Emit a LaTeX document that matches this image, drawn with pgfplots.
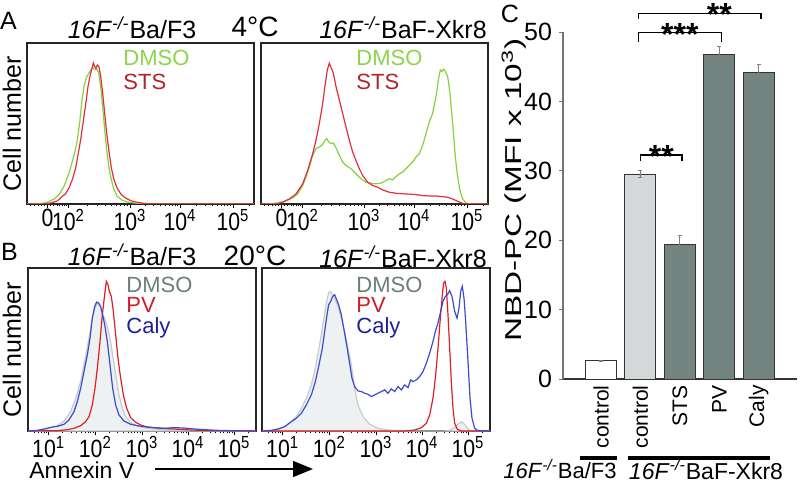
\documentclass[border=0pt]{standalone}
\usepackage{fontspec}
\setmainfont{Liberation Sans}
\newfontfamily\condfont[FakeStretch=0.85]{Liberation Sans}
\newfontfamily\tallfont[FakeStretch=1.45]{Liberation Sans}
\usepackage{pgfplots}
\pgfplotsset{compat=1.18}
\usetikzlibrary{arrows.meta}
\definecolor{dmsoG}{HTML}{86D13E}
\definecolor{dmsoGT}{HTML}{8CD449}
\definecolor{stsR}{HTML}{E0303A}
\definecolor{stsRT}{HTML}{B3232B}
\definecolor{dmsoLine}{HTML}{C8CBCB}
\definecolor{dmsoFill}{HTML}{EEF1F1}
\definecolor{dmsoT}{HTML}{6F7C7C}
\definecolor{pvR}{HTML}{E01E26}
\definecolor{pvT}{HTML}{CC1F2A}
\definecolor{calyB}{HTML}{3A4CCB}
\definecolor{calyT}{HTML}{1F1F9E}
\definecolor{barLight}{HTML}{D4D8D8}
\definecolor{barDark}{HTML}{738481}
\pgfplotsset{
  hist/.style={
    scale only axis, anchor=south west,
    axis line style={line width=0.6pt, black!85},
    ytick=\empty, xtick pos=bottom, tick align=outside,
    major tick length=2pt, minor tick length=1.2pt,
    every tick/.style={black, line width=0.4pt},
    xticklabel style={font=\condfont\fontsize{12.5}{12.5}\selectfont, inner sep=0.5pt},
    ymin=0,
  },
  histA/.style={hist, width=113.5pt, height=80.5pt, xmin=0, xmax=681,
    xtick={61.5,124.5,309,459,618},
    xticklabels={0,10\textsuperscript{2},10\textsuperscript{3},10\textsuperscript{4},10\textsuperscript{5}},
    minor xtick={10,22,33,43,52,70,80,90,98,106,113,119,180,212.5,235.5,253.5,268,280.5,291,300.5,354,380.5,399,414,425.7,435.7,444.5,452,507,535,554.7,570,582.7,593.4,602.6,610.7,666}},
  histB/.style={hist, width=114pt, height=81.5pt, xmin=0, xmax=684, ymax=488,
    xtick={62,202,342,480,618},
    xticklabels={10\textsuperscript{1},10\textsuperscript{2},10\textsuperscript{3},10\textsuperscript{4},10\textsuperscript{5}},
    minor xtick={20,31,40,48,56,104,129,146,160,171,180,188,196,244,269,286,300,311,320,328,336,384,408,425,438,449,459,467,474,522,546,563,577,587,597,605,612,660}},
}
\begin{document}
\begin{tikzpicture}
\useasboundingbox (0,0) rectangle (400pt,-241pt);

% ---------- Panel A left ----------
\begin{axis}[histA, at={(13.5pt,-102pt)}, ymax=483]
\addplot[dmsoG, line width=0.6pt] table[x expr=\thisrow{x}-9, y expr=493-\thisrow{y}] {
x y
9 493
50 492
70 488
90 478
105 465
120 440
135 400
145 365
152 340
160 300
167 250
173 190
180 140
188 112
195 100
202 88
207 84
212 90
218 88
224 98
230 140
236 200
242 270
248 330
255 385
262 420
270 450
280 470
295 482
315 488
340 491
380 493
690 493
};
\addplot[stsR, line width=0.6pt] table[x expr=\thisrow{x}-9, y expr=493-\thisrow{y}] {
x y
9 493
60 493
80 490
100 484
115 470
125 462
135 445
145 420
155 385
163 340
170 300
177 250
185 195
192 140
198 110
204 85
208 70
212 80
216 86
220 76
225 82
230 110
236 160
242 220
248 280
255 335
262 385
270 420
280 447
292 465
305 475
320 483
340 488
360 491
380 493
690 493
};
\end{axis}

% ---------- Panel A right ----------
\begin{axis}[histA, at={(130.5pt,-102pt)}, ymax=480]
\addplot[dmsoG, line width=0.6pt] table[x expr=\thisrow{x}-15, y expr=490-\thisrow{y}] {
x y
15 490
50 489
70 486
90 480
110 472
125 460
140 435
150 410
160 380
170 345
180 325
190 320
200 312
207 300
212 295
218 305
225 310
232 308
240 322
250 345
260 365
270 375
285 385
300 400
315 415
330 425
345 428
360 430
375 428
390 420
400 415
410 418
420 408
430 400
440 395
450 385
460 375
470 365
480 350
490 340
500 315
510 280
520 245
530 220
540 170
547 120
553 90
558 95
563 88
568 95
575 110
582 160
590 250
598 350
605 410
612 450
620 475
630 487
645 490
696 490
};
\addplot[stsR, line width=0.6pt] table[x expr=\thisrow{x}-15, y expr=490-\thisrow{y}] {
x y
15 490
60 490
80 485
100 475
120 460
140 430
155 390
170 340
180 300
190 250
200 190
208 130
214 90
220 70
226 85
232 100
240 140
250 180
260 220
270 260
280 300
290 335
300 360
310 385
320 405
335 425
350 435
365 440
380 448
400 455
420 458
450 460
480 462
500 465
520 466
540 466
560 468
575 470
590 475
605 482
620 488
640 490
696 490
};
\end{axis}

% ---------- Panel B left ----------
\begin{axis}[histB, at={(14pt,-215.5pt)}]
\addplot[draw=dmsoLine, fill=dmsoFill, line width=0.6pt] table[x expr=\thisrow{x}-12, y expr=498-\thisrow{y}] {
x y
12 498
40 497
70 492
100 482
120 468
140 440
155 400
170 350
182 290
195 220
205 160
213 130
220 115
228 125
235 150
242 160
250 185
258 220
266 270
275 330
285 390
295 430
305 455
320 472
340 484
370 490
420 494
480 496
560 497
696 498
} \closedcycle;
\addplot[pvR, line width=0.6pt] table[x expr=\thisrow{x}-12, y expr=498-\thisrow{y}] {
x y
12 498
100 497
130 494
150 490
170 482
185 470
195 455
205 420
213 370
220 310
228 230
235 150
242 90
247 50
252 60
256 80
262 95
268 140
275 210
282 280
290 340
298 390
308 430
320 458
335 472
350 480
370 486
400 489
450 492
500 495
560 497
696 498
};
\addplot[calyB, line width=0.6pt] table[x expr=\thisrow{x}-12, y expr=498-\thisrow{y}] {
x y
12 498
40 496
60 492
80 487
100 484
120 478
135 465
150 440
160 410
170 370
180 320
190 270
198 220
205 160
212 125
218 112
224 115
230 125
236 150
243 185
250 230
258 300
266 370
275 420
285 450
300 468
320 478
340 482
360 485
390 488
420 490
450 488
480 489
510 492
540 494
580 496
620 497
696 498
};
\end{axis}

% ---------- Panel B right ----------
\begin{axis}[histB, at={(131pt,-215.5pt)}]
\addplot[draw=dmsoLine, fill=dmsoFill, line width=0.6pt] table[x expr=\thisrow{x}-12, y expr=498-\thisrow{y}] {
x y
12 498
40 497
60 494
80 485
100 470
115 455
130 430
145 400
160 360
172 310
183 250
193 190
202 135
208 100
213 82
218 80
224 92
232 105
240 125
250 160
260 200
270 250
280 300
290 370
300 420
315 455
335 478
360 490
400 496
480 498
560 498
575 496
590 488
600 478
610 470
620 478
630 492
640 498
696 498
} \closedcycle;
\addplot[pvR, line width=0.6pt] table[x expr=\thisrow{x}-12, y expr=498-\thisrow{y}] {
x y
12 498
440 498
470 495
490 488
505 475
515 450
525 400
533 330
540 250
547 160
553 90
557 55
561 50
565 70
570 150
575 250
580 350
585 430
590 475
598 493
610 498
696 498
};
\addplot[calyB, line width=0.6pt] table[x expr=\thisrow{x}-12, y expr=498-\thisrow{y}] {
x y
12 498
40 496
60 492
80 485
100 470
115 460
130 445
145 420
160 390
172 350
183 300
193 250
200 200
207 150
212 120
218 110
224 95
230 90
236 105
242 120
250 150
258 195
266 240
274 290
282 340
290 365
300 378
310 380
320 385
330 388
340 395
350 390
360 385
370 380
380 375
390 385
400 372
410 380
420 365
430 375
440 360
450 368
458 345
465 350
475 345
485 335
495 320
505 295
515 265
525 230
532 200
540 175
548 140
555 110
562 95
568 90
575 78
582 95
590 140
597 160
603 130
608 80
613 65
618 100
623 170
630 290
636 400
642 460
650 490
660 497
696 498
};
\end{axis}

% ---------- Panel C ----------
\begin{axis}[at={(281.5pt,-189.5pt)}, anchor=south west, scale only axis,
  width=117pt, height=173.5pt,
  xmin=0.035, xmax=5.97, ymin=0, ymax=50,
  axis x line*=bottom, axis y line*=left,
  x axis line style={black!80, line width=0.6pt},
  y axis line style={black!55, line width=0.6pt},
  ytick={0,10,...,50},
  yticklabel style={font=\fontsize{12.5}{12.5}\selectfont},
  /pgf/number format/assume math mode=true,
  xtick={1,...,5},
  xticklabels={control,control,STS,PV,Caly},
  xticklabel style={rotate=90, anchor=east, font=\fontsize{10.5}{10.5}\selectfont, inner sep=1pt},
  major x tick style={draw=none},
  ytick style={black!55, line width=0.5pt},
  tick align=outside, major tick length=2pt,
  clip=false]
\addplot[ybar, bar width=0.787, bar shift=0pt, fill=white, draw=black!80, line width=0.5pt,
  error bars/.cd, y dir=both, y explicit,
  error bar style={black!50, line width=0.4pt},
  error mark options={rotate=90, black!50, mark size=1pt}]
  coordinates {(1,2.6) +- (0,0.1)};
\addplot[ybar, bar width=0.787, bar shift=0pt, fill=barLight, draw=black!80, line width=0.5pt,
  error bars/.cd, y dir=both, y explicit,
  error bar style={black!50, line width=0.4pt},
  error mark options={rotate=90, black!50, mark size=1pt}]
  coordinates {(2,29.5) +- (0,0.5)};
\addplot[ybar, bar width=0.787, bar shift=0pt, fill=barDark, draw=black!80, line width=0.5pt,
  error bars/.cd, y dir=both, y explicit,
  error bar style={black!50, line width=0.4pt},
  error mark options={rotate=90, black!50, mark size=1pt}]
  coordinates {(3,19.4) +- (0,1.3) (4,46.8) +- (0,1.1) (5,44.2) +- (0,1.2)};
% significance brackets
\draw[line width=0.7pt] (axis cs:1.95,51.9) -- (axis cs:1.95,52.7) -- (axis cs:5.06,52.7) -- (axis cs:5.06,51.9);
\draw[line width=0.7pt] (axis cs:1.95,48.6) -- (axis cs:1.95,49.9) -- (axis cs:4.05,49.9) -- (axis cs:4.05,48.6);
\draw[line width=0.7pt] (axis cs:2.0,31.4) -- (axis cs:2.0,32.3) -- (axis cs:3.05,32.3) -- (axis cs:3.05,31.4);
\node[anchor=base, font=\bfseries\fontsize{16}{16}\selectfont, inner sep=0pt] at (axis cs:4.0,51.0) {**};
\node[anchor=base, font=\bfseries\fontsize{16}{16}\selectfont, inner sep=0pt] at (axis cs:3.0,48.0) {***};
\node[anchor=base, font=\bfseries\fontsize{16}{16}\selectfont, inner sep=0pt] at (axis cs:2.53,30.5) {**};
\end{axis}

% ---------- Annotations (pixel coordinates) ----------
\begin{scope}[x=0.5pt, y=-0.5pt]
\node[font=\fontsize{12.5}{12.5}\selectfont] at (8.5,21) {A};
\node[font=\fontsize{12.5}{12.5}\selectfont] at (9.5,252) {B};
\node[font=\fontsize{12.5}{12.5}\selectfont] at (510,14) {C};
\node[font=\fontsize{12.5}{12.5}\selectfont] at (132,28) {\textit{16F}\textsuperscript{\textit{-/-}}Ba/F3};
\node[font=\fontsize{12.5}{12.5}\selectfont] at (403,28) {\textit{16F}\textsuperscript{\textit{-/-}}BaF-Xkr8};
\node[font=\fontsize{14}{14}\selectfont] at (255,27) {4°C};
\node[font=\fontsize{12.5}{12.5}\selectfont] at (132,255) {\textit{16F}\textsuperscript{\textit{-/-}}Ba/F3};
\node[font=\fontsize{12.5}{12.5}\selectfont] at (403,257) {\textit{16F}\textsuperscript{\textit{-/-}}BaF-Xkr8};
\node[font=\fontsize{14}{14}\selectfont] at (255,256) {20°C};
\node[rotate=90, font=\fontsize{12.5}{12.5}\selectfont] at (12,124) {Cell number};
\node[rotate=90, font=\fontsize{12.5}{12.5}\selectfont] at (12,350) {Cell number};
% legends A
\node[anchor=west, inner sep=0pt, text=dmsoGT, font=\fontsize{11}{11}\selectfont] at (123,58) {DMSO};
\node[anchor=west, inner sep=0pt, text=stsRT, font=\fontsize{11}{11}\selectfont] at (123,82) {STS};
\node[anchor=west, inner sep=0pt, text=dmsoGT, font=\fontsize{11}{11}\selectfont] at (356,58) {DMSO};
\node[anchor=west, inner sep=0pt, text=stsRT, font=\fontsize{11}{11}\selectfont] at (356,82) {STS};
% legends B
\node[anchor=west, inner sep=0pt, text=dmsoT, font=\fontsize{11}{11}\selectfont] at (126,285) {DMSO};
\node[anchor=west, inner sep=0pt, text=pvT, font=\fontsize{11}{11}\selectfont] at (126,305) {PV};
\node[anchor=west, inner sep=0pt, text=calyT, font=\fontsize{11}{11}\selectfont] at (126,328) {Caly};
\node[anchor=west, inner sep=0pt, text=dmsoT, font=\fontsize{11}{11}\selectfont] at (356,285) {DMSO};
\node[anchor=west, inner sep=0pt, text=pvT, font=\fontsize{11}{11}\selectfont] at (356,305) {PV};
\node[anchor=west, inner sep=0pt, text=calyT, font=\fontsize{11}{11}\selectfont] at (356,328) {Caly};
% Annexin V arrow
\node[anchor=west, inner sep=0pt, font=\fontsize{11.5}{11.5}\selectfont] at (29,470) {Annexin V};
\draw[line width=0.6pt, -{Triangle[length=10pt, width=8pt]}] (155,469) -- (313,469);
% Panel C y label
\node[rotate=90, font=\tallfont\fontsize{11.5}{11.5}\selectfont] at (514,190) {NBD-PC (MFI x 10\textsuperscript{3})};
% group lines and labels
\draw[line width=2pt] (580,458) -- (617,458);
\draw[line width=2pt] (628,458) -- (770,458);
\node[font=\fontsize{11}{11}\selectfont] at (560,469) {\textit{16F}\textsuperscript{\textit{-/-}}Ba/F3};
\node[font=\fontsize{11.5}{11.5}\selectfont] at (706,469) {\textit{16F}\textsuperscript{\textit{-/-}}BaF-Xkr8};
\end{scope}
\end{tikzpicture}
\end{document}
